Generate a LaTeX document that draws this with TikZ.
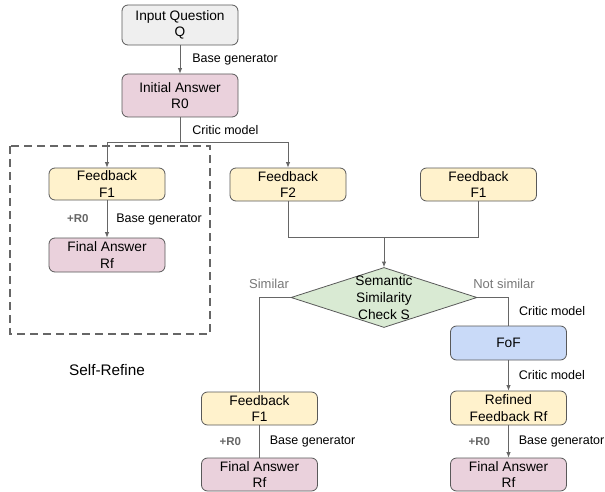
\documentclass[tikz,border=0pt]{standalone}
\usepackage{fontspec}
\setmainfont{Liberation Sans}
\usetikzlibrary{shapes.geometric,arrows.meta,calc}
\definecolor{bd}{HTML}{595959}
\definecolor{ln}{HTML}{666666}
\definecolor{cgray}{HTML}{EFEFEF}
\definecolor{cpink}{HTML}{EAD1DC}
\definecolor{cyel}{HTML}{FFF2CC}
\definecolor{cgreen}{HTML}{D9EAD3}
\definecolor{cblue}{HTML}{C9DAF8}
\definecolor{lgray}{HTML}{777777}
\begin{document}
\begin{tikzpicture}[x=1pt,y=-1pt,
  box/.style={draw=bd, line width=0.8pt, rounded corners=6pt, minimum width=116pt,
    align=center, inner sep=1pt, font=\fontsize{13.7}{16.5}\selectfont},
  lab/.style={inner sep=0pt, font=\fontsize{12.5}{14}\selectfont, text=black},
  plus/.style={inner sep=0pt, font=\bfseries\fontsize{11.5}{14}\selectfont, text=ln},
  side/.style={inner sep=0pt, font=\fontsize{13}{15}\selectfont, text=lgray},
  conn/.style={draw=ln, line width=0.8pt},
  arr/.style={conn, -{Latex[length=5.5pt,width=4.5pt]}}]
\useasboundingbox (0,0) rectangle (605,492);

% nodes
\node[box, fill=cgray, minimum height=40pt] (q) at (180,25) {Input Question\\Q};
\node[box, fill=cpink, minimum height=43pt] (r0) at (180,95.5) {Initial Answer\\R0};
\node[box, fill=cyel, minimum height=32pt] (f1a) at (107,184) {Feedback\\F1};
\node[box, fill=cpink, minimum height=34pt] (fa1) at (107,255) {Final Answer\\Rf};
\node[box, fill=cyel, minimum height=33pt] (f2) at (288,184.5) {Feedback\\F2};
\node[box, fill=cyel, minimum height=33pt] (f1b) at (478.5,184.5) {Feedback\\F1};
\node[draw=bd, line width=0.8pt, fill=cgreen, shape=diamond, minimum width=186pt,
  minimum height=60pt, inner sep=0pt] (chk) at (384,297.5) {};
\node[align=center, inner sep=0pt, font=\fontsize{13.7}{17}\selectfont] (chkt) at (384,298) {Semantic\\Similarity\\Check S};
\node[box, fill=cyel, minimum height=33pt] (fb1) at (259.5,408.5) {Feedback\\F1};
\node[box, fill=cpink, minimum height=33pt] (fa2) at (259.5,474.5) {Final Answer\\Rf};
\node[box, fill=cblue, minimum height=34pt] (fof) at (508.5,343) {FoF};
\node[box, fill=cyel, minimum height=34pt] (rf) at (508.5,408) {Refined\\Feedback Rf};
\node[box, fill=cpink, minimum height=33pt] (fa3) at (508.5,474.5) {Final Answer\\Rf};

% self-refine frame
\draw[draw=ln, line width=1.6pt, dash pattern=on 8pt off 5pt] (10,146) rectangle (210,334);
\node[inner sep=0pt, font=\fontsize{15.3}{18}\selectfont] (sr) at (107,370) {Self-Refine};

% connectors
\draw[arr] (q) -- node[lab, right=12pt] {Base generator} (r0);
\draw[conn] (r0.south) -- node[lab, right=12pt] {Critic model} ++(0,25) coordinate (split);
\draw[arr] (split) -| (f1a.north);
\draw[arr] (split) -| (f2.north);
\draw[arr] (f1a) -- node[lab, right=9pt] {Base generator} node[plus, left=18pt] {+R0} (fa1);
\draw[conn] (f2.south) -- ++(0,36) coordinate (j1) -| (f1b.south);
\draw[arr] (chk.north |- j1) -- (chk.north);
\draw[conn] (chk.west) -| coordinate[pos=0.5] (cw) (fb1.north);
\node[side] at (269,284) {Similar};
\draw[conn] (chk.east) -| coordinate[pos=0.5] (ce) (fof.north);
\node[side] at (504,284) {Not similar};
\node[lab, anchor=west] at (519,311) {Critic model};
\draw[arr] (fof) -- node[lab, right=10pt] {Critic model} (rf);
\draw[conn] (fb1) -- node[lab, right=10pt] {Base generator} node[plus, left=18pt] {+R0} (fa2);
\draw[arr] (rf) -- node[lab, right=10pt] {Base generator} node[plus, left=18pt] {+R0} (fa3);
\end{tikzpicture}
\end{document}
